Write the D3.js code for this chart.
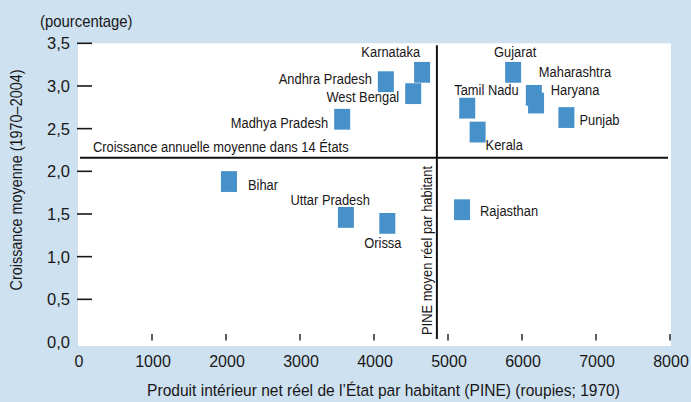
<!DOCTYPE html>
<html>
<head>
<meta charset="utf-8">
<script src="https://cdn.jsdelivr.net/npm/d3@7/dist/d3.min.js"></script>
<style>
  body { margin: 0; background: #cde1f0; }
  text { font-family: "Liberation Sans", Arial, sans-serif; fill: #1a1718; }
</style>
</head>
<body>
<script>
const width = 691;
const height = 402;

// data
const states = ["Gujarat", "Karnataka", "Andhra Pradesh", "West Bengal", "Madhya Pradesh",
                "Tamil Nadu", "Kerala", "Maharashtra", "Haryana", "Punjab",
                "Bihar", "Uttar Pradesh", "Orissa", "Rajasthan"];
const pine = [5880, 4650, 4160, 4530, 3570, 5260, 5400, 6160, 6190, 6600, 2040, 3620, 4180, 5190];
const growth = [3.16, 3.16, 3.05, 2.91, 2.61, 2.74, 2.46, 2.89, 2.80, 2.63, 1.88, 1.46, 1.39, 1.55];
const avgGrowth = 2.16;
const avgPine = 4850;
const xTicks = [0, 1000, 2000, 3000, 4000, 5000, 6000, 7000, 8000];
const yTicks = [0, 0.5, 1, 1.5, 2, 2.5, 3, 3.5];

// label placement per state: [dx, dy, anchor]
const labelPos = {
    "Gujarat": [2, -15.5, "middle"],
    "Karnataka": [-2, -15.3, "end"],
    "Andhra Pradesh": [-14, 2.7, "end"],
    "West Bengal": [-14, 8.4, "end"],
    "Madhya Pradesh": [-14, 8.4, "end"],
    "Tamil Nadu": [-13, -13.3, "start"],
    "Kerala": [8, 18.4, "start"],
    "Maharashtra": [5, -18, "start"],
    "Haryana": [14.7, -7.7, "start"],
    "Punjab": [13, 7, "start"],
    "Bihar": [19, 8, "start"],
    "Uttar Pradesh": [24, -12.5, "end"],
    "Orissa": [-4.5, 24.6, "middle"],
    "Rajasthan": [18, 6.4, "start"]
};

const plot = {left: 78, right: 670, top: 43.3, bottom: 342};
const narrow = 0.86; // the original face is a condensed gothic

const xScale = d3.scaleLinear().domain([0, 8000]).range([plot.left, plot.right]);
const yScale = d3.scaleLinear().domain([0, 3.5]).range([plot.bottom, plot.top]);

let svg = d3.select("body")
            .append("svg")
            .attr("width", width)
            .attr("height", height);

svg.append("rect")
   .attr("width", width)
   .attr("height", height)
   .attr("fill", "#cde1f0");

// white plot area
svg.append("rect")
   .attr("x", plot.left)
   .attr("y", plot.top)
   .attr("width", plot.right + 1 - plot.left)
   .attr("height", 346 - plot.top)
   .attr("fill", "#ffffff");

// squeezed text helper
function label(x, y, str, size, sx, anchor, rot) {
    return svg.append("text")
        .attr("transform", "translate(" + x + "," + y + ")" + (rot ? " rotate(" + rot + ")" : "") + " scale(" + sx + ",1)")
        .attr("text-anchor", anchor || "start")
        .style("font-size", size + "px")
        .text(str);
}

// y ticks (inside, along the left edge)
svg.selectAll(".ytick")
   .data(yTicks.filter(d => d > 0))
   .enter()
   .append("line")
   .attr("x1", plot.left - 1)
   .attr("x2", plot.left + 14)
   .attr("y1", d => yScale(d))
   .attr("y2", d => yScale(d))
   .attr("stroke", "#1a1718")
   .attr("stroke-width", 1.6);

svg.selectAll(".ylab")
   .data(yTicks)
   .enter()
   .append("text")
   .attr("x", 70)
   .attr("y", d => yScale(d) + 6)
   .attr("text-anchor", "end")
   .style("font-size", "16.5px")
   .text(d => d3.format(".1f")(d).replace(".", ","));

// x ticks (short, at the bottom)
svg.selectAll(".xtick")
   .data(xTicks.filter(d => d > 0))
   .enter()
   .append("line")
   .attr("x1", d => xScale(d))
   .attr("x2", d => xScale(d))
   .attr("y1", 334)
   .attr("y2", 340.5)
   .attr("stroke", "#1a1718")
   .attr("stroke-width", 1.4);

svg.selectAll(".xlab")
   .data(xTicks)
   .enter()
   .append("text")
   .attr("x", d => xScale(d) + 1)
   .attr("y", 366.5)
   .attr("text-anchor", "middle")
   .style("font-size", "16px")
   .text(d => d);

// average lines
svg.append("line")
   .attr("x1", plot.left + 2)
   .attr("x2", plot.right - 2)
   .attr("y1", yScale(avgGrowth))
   .attr("y2", yScale(avgGrowth))
   .attr("stroke", "#111")
   .attr("stroke-width", 2);

svg.append("line")
   .attr("x1", xScale(avgPine))
   .attr("x2", xScale(avgPine))
   .attr("y1", plot.top + 2)
   .attr("y2", 339)
   .attr("stroke", "#111")
   .attr("stroke-width", 2);

label(93, 152, "Croissance annuelle moyenne dans 14 États", 15, narrow);
label(xScale(avgPine) - 5, 335, "PINE moyen réel par habitant", 15, narrow, "start", -90);

// state markers
const points = states.map((s, i) => ({state: s, x: pine[i], y: growth[i]}));

svg.selectAll(".dot")
   .data(points)
   .enter()
   .append("rect")
   .attr("class", "dot")
   .attr("x", d => xScale(d.x) - 8)
   .attr("y", d => yScale(d.y) - 10.4)
   .attr("width", 16)
   .attr("height", 20.8)
   .attr("fill", "#4691c9");

points.forEach(d => {
    const p = labelPos[d.state];
    label(xScale(d.x) + p[0], yScale(d.y) + p[1], d.state, 15, narrow, p[2]);
});

// axis titles
label(40, 27, "(pourcentage)", 16, 0.93);
label(22, 180, "Croissance moyenne (1970–2004)", 16, 0.9, "middle", -90);
label(383.5, 395.5, "Produit intérieur net réel de l’État par habitant (PINE) (roupies; 1970)", 16.3, 0.955, "middle");
</script>
</body>
</html>
